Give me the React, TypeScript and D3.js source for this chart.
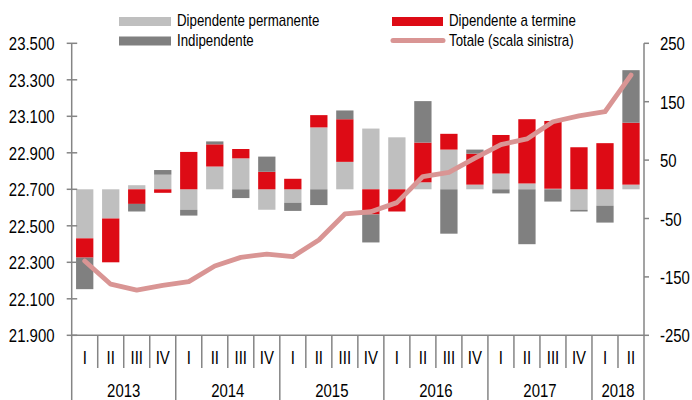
import React from "react";
import * as d3 from "d3";

const quarters = [
  "2013-I","2013-II","2013-III","2013-IV",
  "2014-I","2014-II","2014-III","2014-IV",
  "2015-I","2015-II","2015-III","2015-IV",
  "2016-I","2016-II","2016-III","2016-IV",
  "2017-I","2017-II","2017-III","2017-IV",
  "2018-I","2018-II",
];
const quarterLabels = ["I","II","III","IV","I","II","III","IV","I","II","III","IV","I","II","III","IV","I","II","III","IV","I","II"];
const years = ["2013","2014","2015","2016","2017","2018"];

const permanent = [-84, -50, 7, 25, -35, 39, 53, -35, -23, 106, 47, 104, 89, 12, 68, 8, 27, 10, 1, -35, -28, 8];
const term = [-33, -75, -25, -6, 64, 38, 16, 30, 18, 21, 73, -43, -38, 68, 27, 53, 66, 110, 116, 72, 79, 106];
const independent = [-54, 0, -13, 8, -10, 5, -15, 26, -14, -27, 15, -48, 0, 71, -76, 7, -7, -94, -21, -3, -29, 90];
const total = [22307, 22180, 22148, 22173, 22194, 22280, 22327, 22345, 22331, 22422, 22565, 22577, 22627, 22770, 22793, 22871, 22945, 22976, 23070, 23102, 23125, 23326];

const leftTicks = [21900, 22100, 22300, 22500, 22700, 22900, 23100, 23300, 23500];
const rightTicks = [-250, -150, -50, 50, 150, 250];

const seriesKeys = ["permanent", "term", "independent"];
const seriesNames = ["Dipendente permanente", "Dipendente a termine", "Indipendente", "Totale (scala sinistra)"];
const colors = { permanent: "#bfbfbf", term: "#dd0b15", independent: "#808080", total: "#d99594" };

const W = 692, H = 400;
const X0 = 71.7, X1 = 644, YT = 43.3, YB = 335.3;
const AX = "#858585";
const FONT = "'Liberation Sans', Arial, sans-serif";

const locale = d3.formatLocale({ decimal: ",", thousands: ".", grouping: [3], currency: ["€", ""], minus: "-" });
const fmtLeft = locale.format(",");
const fmtRight = locale.format("d");

function NText({ x, y, anchor = "start", size = 18, children }: any) {
  return (
    <text
      transform={`translate(${x},${y}) scale(0.83,1)`}
      textAnchor={anchor}
      fontSize={size}
      fontFamily={FONT}
      fill="#000"
    >
      {children}
    </text>
  );
}

export default function App() {
  const x = d3.scaleBand<string>().domain(quarters).range([X0, X1]).paddingInner(0.335).paddingOuter(0.1675);
  const step = x.step();
  const yR = d3.scaleLinear().domain([-250, 250]).range([YB, YT]);
  const yL = d3.scaleLinear().domain([21900, 23500]).range([YB, YT]);

  const rows = quarters.map((q, i) => ({ q, permanent: permanent[i], term: term[i], independent: independent[i] }));
  const stacked = d3.stack<any>().keys(seriesKeys).offset(d3.stackOffsetDiverging)(rows);

  const line = d3.line<number>()
    .x((_, i) => (x(quarters[i]) as number) + x.bandwidth() / 2)
    .y((v) => yL(v))(total);

  const yearGroups = years.map((yr) => {
    const idx = quarters.map((q, i) => (q.startsWith(yr) ? i : -1)).filter((i) => i >= 0);
    const start = X0 + idx[0] * step;
    const end = X0 + (idx[idx.length - 1] + 1) * step;
    return { yr, start, end };
  });

  return (
    <svg width={W} height={H} style={{ position: "absolute", left: 0, top: 0, background: "#fff" }}>
      {stacked.map((s: any) => (
        <g key={s.key} fill={(colors as any)[s.key]}>
          {s.map((d: any, i: number) => {
            const y0 = yR(d[0]), y1 = yR(d[1]);
            const top = Math.min(y0, y1), h = Math.abs(y1 - y0);
            if (h < 0.01) return null;
            return <rect key={i} x={x(quarters[i])} y={top} width={x.bandwidth()} height={h} />;
          })}
        </g>
      ))}

      <path d={line || ""} fill="none" stroke={colors.total} strokeWidth={4.8} strokeLinejoin="round" strokeLinecap="round" />

      <line x1={X0} x2={X0} y1={YT} y2={H} stroke={AX} strokeWidth={1.5} />
      {leftTicks.map((t) => (
        <g key={t}>
          <line x1={X0 - 5} x2={X0 + 5.5} y1={yL(t)} y2={yL(t)} stroke={AX} strokeWidth={1.5} />
          <NText x={54.5} y={yL(t) + 7} anchor="end">{fmtLeft(t)}</NText>
        </g>
      ))}

      <line x1={X1} x2={X1} y1={YT} y2={H} stroke={AX} strokeWidth={1.5} />
      {rightTicks.map((t) => (
        <g key={t}>
          <line x1={X1} x2={X1 + 5} y1={yR(t)} y2={yR(t)} stroke={AX} strokeWidth={1.5} />
          <NText x={660} y={yR(t) + 7} anchor="start">{fmtRight(t)}</NText>
        </g>
      ))}

      <line x1={X0} x2={X1} y1={YB} y2={YB} stroke={AX} strokeWidth={1.5} />
      {quarters.map((q, i) => {
        const bx = X0 + i * step;
        const isYear = i > 0 && quarterLabels[i] === "I";
        return (
          <g key={q}>
            {i > 0 && <line x1={bx} x2={bx} y1={YB} y2={isYear ? H : 368} stroke={AX} strokeWidth={1.5} />}
            <NText x={bx + step / 2} y={364} anchor="middle">{quarterLabels[i]}</NText>
          </g>
        );
      })}
      {yearGroups.map((g) => (
        <NText key={g.yr} x={(g.start + g.end) / 2} y={397} anchor="middle">{g.yr}</NText>
      ))}

      <rect x={119} y={17} width={52} height={9} fill={colors.permanent} />
      <NText x={177} y={25.7} size={16}>{seriesNames[0]}</NText>
      <rect x={119} y={36.5} width={52} height={9} fill={colors.independent} />
      <NText x={177} y={46} size={16}>{seriesNames[2]}</NText>
      <rect x={392} y={17} width={51} height={9} fill={colors.term} />
      <NText x={449} y={25.7} size={16}>{seriesNames[1]}</NText>
      <line x1={393} x2={443} y1={40.5} y2={40.5} stroke={colors.total} strokeWidth={5} strokeLinecap="round" />
      <NText x={449} y={46} size={16}>{seriesNames[3]}</NText>
    </svg>
  );
}
